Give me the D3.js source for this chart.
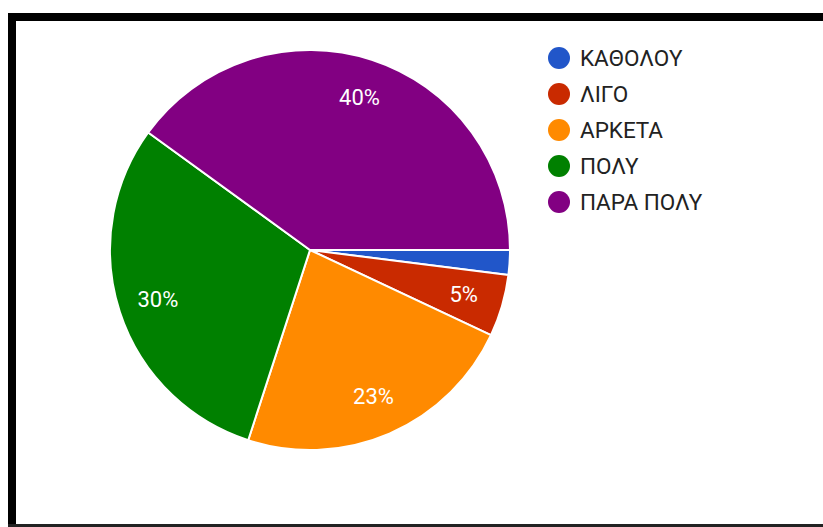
<!DOCTYPE html>
<html>
<head>
<meta charset="utf-8">
<script src="https://cdn.jsdelivr.net/npm/d3@7/dist/d3.min.js"></script>
<style>
  html, body { margin: 0; padding: 0; background: #fff; }
  svg { display: block; }
</style>
</head>
<body>
<svg id="chart" width="823" height="527"></svg>
<script>
// Answer categories and their share of responses (%)
const categories = ["ΚΑΘΟΛΟΥ", "ΛΙΓΟ", "ΑΡΚΕΤΑ", "ΠΟΛΥ", "ΠΑΡΑ ΠΟΛΥ"];
const values = [2, 5, 23, 30, 40];
const colors = ["#2156c9", "#c92a00", "#ff8a00", "#008000", "#820082"];

const svg = d3.select("#chart");
const W = 823, H = 527;

// Frame: heavy top and left edges, thin bottom line
svg.append("rect").attr("x", 8).attr("y", 13).attr("width", W - 8).attr("height", 8).attr("fill", "#000");
svg.append("rect").attr("x", 8).attr("y", 13).attr("width", 8).attr("height", H - 13).attr("fill", "#000");
svg.append("rect").attr("x", 8).attr("y", 524).attr("width", W - 8).attr("height", 3).attr("fill", "#222");

const cx = 310, cy = 250, r = 200;
const data = categories.map((c, i) => ({ name: c, value: values[i], color: colors[i] }));

// Slices start at 3 o'clock and run clockwise
const pie = d3.pie().sort(null).value(d => d.value)
  .startAngle(Math.PI / 2).endAngle(Math.PI / 2 + 2 * Math.PI);
const arc = d3.arc().innerRadius(0).outerRadius(r);
const labelArc = d3.arc().innerRadius(r * 0.8).outerRadius(r * 0.8);

const g = svg.append("g").attr("transform", `translate(${cx},${cy})`);
const arcs = pie(data);

g.selectAll("path.slice").data(arcs).join("path")
  .attr("class", "slice")
  .attr("d", arc)
  .attr("fill", d => d.data.color)
  .attr("stroke", "#fff")
  .attr("stroke-width", 2)
  .attr("stroke-linejoin", "round");

// Percentage labels for slices wide enough to hold them
g.selectAll("text.pct").data(arcs.filter(d => d.data.value >= 5)).join("text")
  .attr("class", "pct")
  .attr("transform", d => `translate(${labelArc.centroid(d)})`)
  .attr("text-anchor", "middle")
  .attr("dominant-baseline", "central")
  .attr("font-family", "Roboto, Arial, sans-serif")
  .attr("font-size", 22)
  .attr("fill", "#fff")
  .text(d => d.data.value + "%");

// Legend
const legend = svg.append("g").attr("transform", "translate(559,58)");
const item = legend.selectAll("g").data(data).join("g")
  .attr("transform", (d, i) => `translate(0,${i * 36})`);
item.append("circle").attr("r", 11).attr("fill", d => d.color);
item.append("text")
  .attr("x", 21)
  .attr("dominant-baseline", "central")
  .attr("font-family", "Roboto, Arial, sans-serif")
  .attr("font-size", 22.5)
  .attr("fill", "#222")
  .text(d => d.name);
</script>
</body>
</html>
